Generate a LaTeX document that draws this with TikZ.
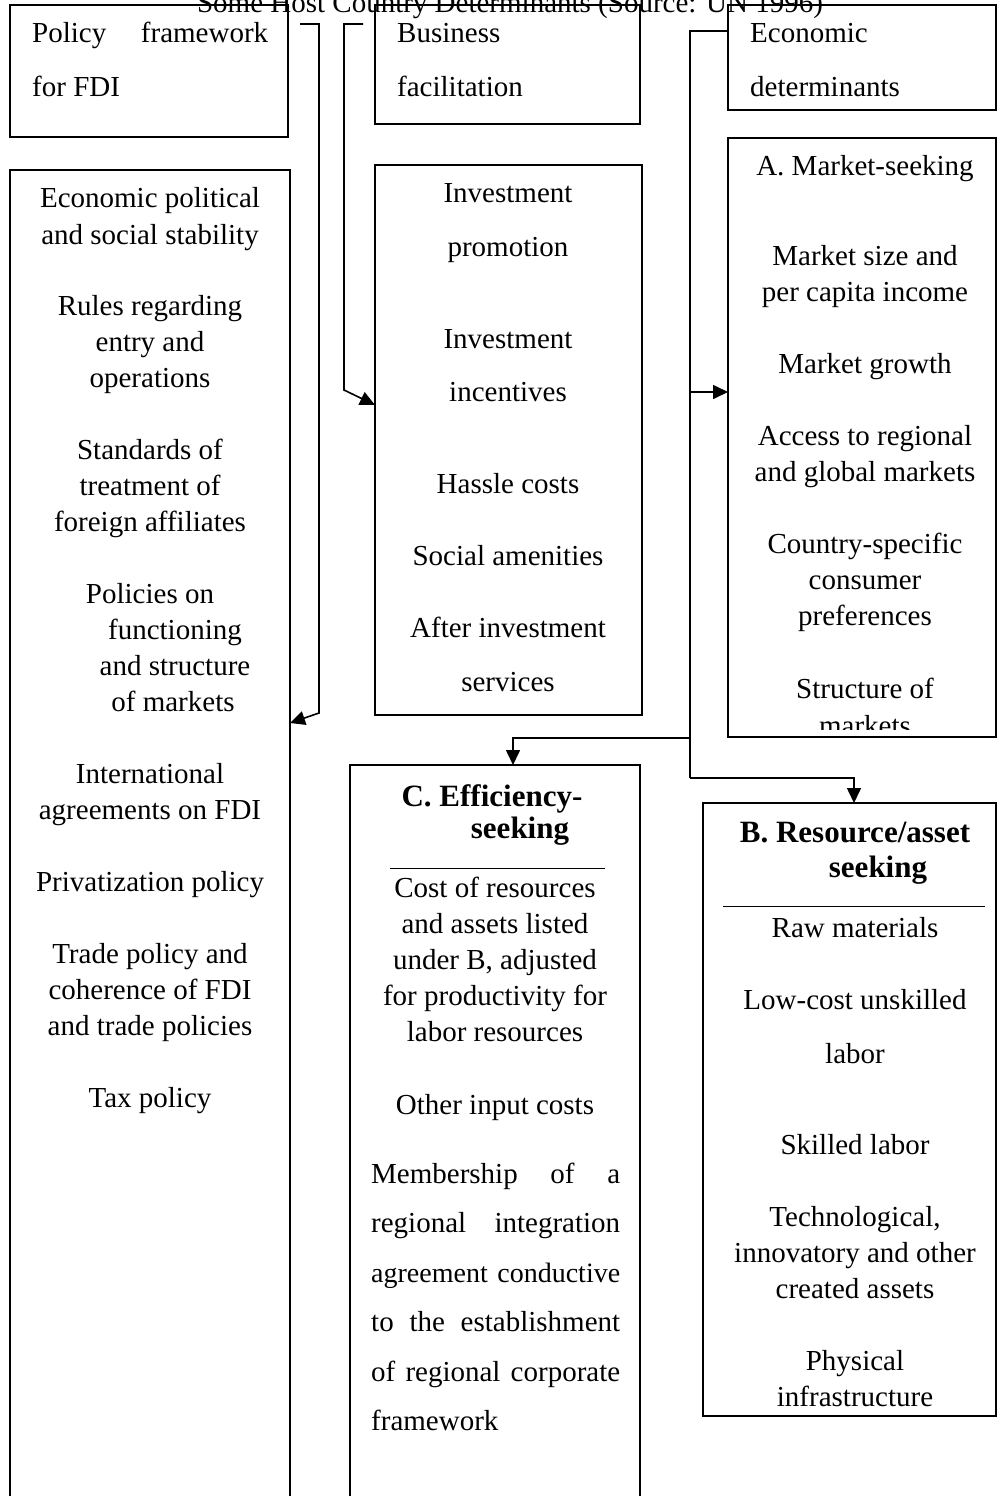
\documentclass[tikz,border=0pt]{standalone}
\usepackage{fontspec}
\setmainfont{Liberation Serif}
\usetikzlibrary{arrows.meta}
\begin{document}
\begin{tikzpicture}[x=1pt,y=-1pt,
  box/.style={draw, line width=1.6pt, anchor=north west, inner sep=0pt, outer sep=0pt},
  tx/.style={font=\fontsize{29}{34}\selectfont, inner sep=0pt, anchor=base},
  txb/.style={font=\fontsize{31}{36}\selectfont\bfseries, inner sep=0pt, anchor=base},
  txl/.style={tx, anchor=base west},
  conn/.style={line width=1.6pt},
  arr/.style={conn, -{Triangle[length=15pt,width=14pt]}},
  rulel/.style={line width=0.8pt}]
\useasboundingbox (0,0) rectangle (997,1496);

% title (cut at top, as in the reference)
\node[tx] (title) at (510,13) {Some Host Country Determinants (Source: UN 1996)};

% boxes
\node[box, minimum width=278pt, minimum height=132pt] (pf) at (10,5) {};
\node[box, minimum width=265pt, minimum height=119pt] (bf) at (375,5) {};
\node[box, minimum width=268pt, minimum height=105pt] (ed) at (728,5) {};
\node[box, minimum width=280pt, minimum height=1340pt] (lb) at (10,170) {};
\node[box, minimum width=267pt, minimum height=550pt] (mb) at (375,165) {};
\node[box, minimum width=268pt, minimum height=599pt] (ab) at (728,138) {};
\node[box, minimum width=290pt, minimum height=745pt] (cb) at (350,765) {};
\node[box, minimum width=293pt, minimum height=613pt] (bb) at (703,803) {};

% top box texts
\node[txl] (pf1) at (32,43) {\makebox[236pt][s]{Policy framework}};
\node[txl] (pf2) at (32,96) {for FDI};
\node[txl] (bf1) at (397,43) {Business};
\node[txl] (bf2) at (397,96) {facilitation};
\node[txl] (ed1) at (750,43) {Economic};
\node[txl] (ed2) at (750,96) {determinants};

% left box
\foreach \xx/\yy/\tt [count=\i] in {
  150/207/Economic political, 150/244/and social stability,
  150/315/Rules regarding, 150/351/entry and, 150/387/operations,
  150/459/Standards of, 150/495/treatment of, 150/531/foreign affiliates,
  150/603/Policies on, 175/639/functioning, 175/675/and structure, 173/711/of markets,
  150/783/International, 150/819/agreements on FDI,
  150/891/Privatization policy,
  150/963/Trade policy and, 150/999/coherence of FDI, 150/1035/and trade policies,
  150/1107/Tax policy}
  \node[tx] (L\i) at (\xx,\yy) {\tt};

% middle box
\foreach \yy/\tt [count=\i] in {
  202/Investment, 256/promotion, 348/Investment, 401/incentives,
  493/Hassle costs, 565/Social amenities, 637/After investment, 691/services}
  \node[tx] (M\i) at (508,\yy) {\tt};

% A box (last line clipped as in the reference)
\begin{scope}
\clip (728,138) rectangle (996,729);
\foreach \yy/\tt [count=\i] in {
  175/A. Market-seeking,
  265/Market size and, 301/per capita income,
  373/Market growth,
  445/Access to regional, 481/and global markets,
  553/Country-specific, 589/consumer, 625/preferences,
  698/Structure of, 735/markets}
  \node[tx] (A\i) at (865,\yy) {\tt};
\end{scope}

% C box
\node[txb] (C1) at (492,806) {C. Efficiency-};
\node[txb] (C2) at (520,838) {seeking};
\draw[rulel] (390,868) -- (605,868);
\foreach \yy/\tt [count=\i] in {
  897/Cost of resources, 933/and assets listed, 969/{under B, adjusted},
  1005/for productivity for, 1041/labor resources, 1114/Other input costs}
  \node[tx] (Ct\i) at (495,\yy) {\tt};
\foreach \yy/\tt [count=\i] in {
  1183/Membership of a, 1232.5/regional integration,
  1282/{\fontsize{28}{34}\selectfont agreement conductive},
  1331.5/to the establishment, 1381/of regional corporate}
  \node[txl] (Cp\i) at (371,\yy) {\makebox[249pt][s]{\tt}};
\node[txl] (Cp6) at (371,1430) {framework};

% B box
\node[txb] (B1) at (855,842) {B. Resource/asset};
\node[txb] (B2) at (878,877) {seeking};
\draw[rulel] (723,906) -- (985,906);
\foreach \yy/\tt [count=\i] in {
  937/Raw materials, 1009/Low-cost unskilled, 1063/labor,
  1154/Skilled labor, 1226/{Technological,}, 1262/innovatory and other,
  1298/created assets, 1370/Physical, 1406/infrastructure}
  \node[tx] (Bt\i) at (855,\yy) {\tt};

% connectors
\coordinate (p0) at (300,24);
\coordinate (p1) at (319,24);
\coordinate (p2) at (319,713);
\draw[arr] (p0) -- (p1) -- (p2) -- (lb.east |- 0,723);

\coordinate (q0) at (363,24);
\coordinate (q1) at (344,24);
\coordinate (q2) at (344,390);
\draw[arr] (q0) -- (q1) -- (q2) -- (mb.west |- 0,405);

\coordinate (r1) at (690,31);
\coordinate (r2) at (690,778);
\coordinate (rA) at (690,392);
\coordinate (rC) at (690,738);
\draw[conn] (ed.west |- r1) -- (r1) -- (r2);
\draw[arr] (rA) -- (ab.west |- rA);
\draw[arr] (rC) -- (513,738) -- (513,765);
\draw[arr] (r2) -- (854,778) -- (854,803);
\end{tikzpicture}
\end{document}
